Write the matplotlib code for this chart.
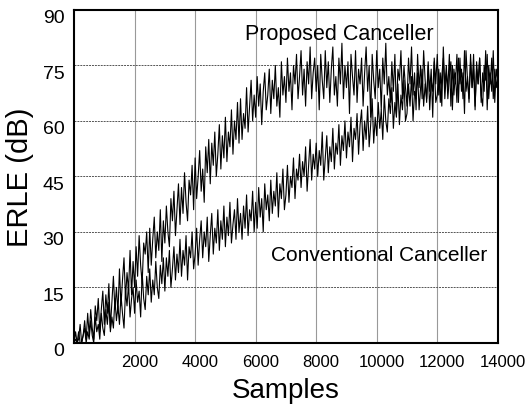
"""
ERLE convergence curves: proposed vs conventional canceller.
"""

import matplotlib
matplotlib.use("Agg")
import matplotlib.pyplot as plt
import matplotlib.transforms as mtransforms
import numpy as np

# sample index step of the read-off values
STEP = 50

# ERLE (dB), one row per 500 samples
erle_proposed = [
    0, 3, 0, 1, 5, 0, 2, 6, 1, 8,
    2, 9, 4, 1, 10, 6, 12, 3, 9, 14,
    5, 13, 8, 16, 4, 11, 18, 9, 15, 8,
    20, 10, 17, 23, 12, 19, 14, 25, 13, 22,
    15, 26, 18, 29, 21, 16, 27, 24, 30, 19,
    31, 21, 28, 34, 23, 30, 25, 36, 22, 33,
    27, 37, 30, 26, 39, 33, 41, 29, 36, 43,
    32, 42, 35, 46, 38, 33, 44, 40, 48, 36,
    50, 39, 45, 52, 41, 47, 38, 53, 46, 55,
    43, 54, 48, 57, 45, 51, 59, 47, 56, 50,
    61, 49, 57, 53, 63, 51, 60, 55, 65, 54,
    66, 55, 62, 58, 69, 57, 64, 71, 60, 67,
    61, 72, 64, 70, 59, 68, 73, 63, 67, 74,
    62, 71, 66, 75, 64, 69, 61, 76, 67, 72,
    65, 77, 68, 73, 63, 75, 70, 78, 66, 72,
    79, 67, 74, 64, 76, 70, 80, 66, 73, 77,
    68, 75, 63, 78, 71, 66, 79, 69, 76, 65,
    74, 80, 67, 72, 64, 77, 70, 81, 66, 75,
    69, 76, 62, 78, 72, 67, 79, 65, 74, 70,
    77, 64, 73, 80, 68, 75, 61, 78, 71, 66,
    79, 69, 74, 63, 77, 70, 81, 67, 72, 65,
    76, 68, 78, 62, 74, 71, 79, 66, 75, 69,
    64, 77, 70, 80, 67, 73, 63, 78, 69, 75,
    66, 79, 71, 65, 76, 68, 74, 61, 77, 70,
    78, 67, 73, 64, 80, 69, 75, 66, 72, 76,
    63, 74, 70, 78, 65, 77, 68, 73, 62, 79,
    71, 66, 76, 69, 78, 64, 74, 70, 77, 65,
    73, 68, 79, 63, 75, 70, 77, 66, 74, 69,
    72,
]

erle_conventional = [
    0, 1, 0, 3, 0, 0, 2, 4, 0, 3,
    1, 6, 2, 0, 7, 3, 5, 1, 8, 4,
    2, 9, 5, 11, 3, 7, 4, 12, 6, 10,
    5, 13, 8, 4, 14, 10, 16, 7, 12, 15,
    8, 17, 11, 14, 7, 19, 12, 9, 18, 13,
    20, 11, 17, 13, 22, 15, 12, 21, 16, 23,
    14, 23, 18, 25, 15, 20, 26, 17, 24, 19,
    28, 18, 25, 21, 29, 17, 26, 23, 30, 20,
    24, 31, 21, 28, 33, 23, 30, 26, 34, 22,
    29, 35, 24, 31, 27, 36, 25, 33, 28, 37,
    26, 34, 29, 38, 27, 32, 36, 28, 39, 30,
    35, 28, 37, 31, 40, 29, 36, 33, 41, 30,
    38, 31, 42, 34, 39, 30, 43, 36, 40, 33,
    44, 35, 41, 37, 46, 34, 43, 39, 47, 36,
    40, 48, 38, 45, 42, 50, 39, 47, 44, 51,
    42, 49, 45, 53, 41, 48, 55, 44, 51, 47,
    54, 45, 52, 48, 57, 44, 50, 56, 46, 53,
    49, 58, 47, 54, 51, 59, 48, 56, 52, 60,
    50, 57, 53, 61, 49, 58, 55, 62, 51, 59,
    63, 52, 60, 55, 64, 53, 59, 66, 54, 61,
    56, 65, 58, 63, 55, 67, 60, 57, 66, 62,
    69, 58, 65, 61, 70, 59, 67, 63, 71, 60,
    62, 70, 64, 72, 60, 68, 66, 73, 63, 69,
    74, 64, 70, 66, 75, 63, 71, 68, 76, 65,
    67, 74, 65, 72, 77, 66, 73, 69, 78, 64,
    75, 67, 73, 65, 77, 70, 74, 66, 79, 68,
    72, 65, 78, 69, 74, 63, 76, 70, 77, 67,
    64, 75, 71, 78, 66, 73, 68, 79, 65, 74,
    71,
]

x_ticks = [2000, 4000, 6000, 8000, 10000, 12000, 14000]
y_ticks = [0, 15, 30, 45, 60, 75, 90]

samples = np.arange(len(erle_proposed)) * STEP

plt.rcParams["font.family"] = ["Liberation Sans", "DejaVu Sans"]

fig = plt.figure(figsize=(5.29, 4.06), dpi=100)
ax = fig.add_axes([0.140, 0.153, 0.801, 0.820])

ax.plot(samples, erle_proposed, color="#000000", linewidth=0.8)
ax.plot(samples, erle_conventional, color="#000000", linewidth=0.8)

ax.set_xlim(0, 14000)
ax.set_ylim(0, 90)
ax.set_xticks(x_ticks)
ax.set_yticks(y_ticks)
ax.tick_params(axis="both", length=0)
ax.tick_params(axis="x", labelsize=12, pad=8)
ax.tick_params(axis="y", labelsize=14, pad=7)

# labels in the reference sit a little right / below their grid lines
for lab in ax.get_xticklabels():
    lab.set_transform(lab.get_transform() + mtransforms.ScaledTranslation(5 / 100, 0, fig.dpi_scale_trans))
for lab in ax.get_yticklabels():
    lab.set_transform(lab.get_transform() + mtransforms.ScaledTranslation(0, -6 / 100, fig.dpi_scale_trans))

ax.xaxis.grid(True, color="#999999", linewidth=0.8, linestyle="-")
ax.yaxis.grid(True, color="#555555", linewidth=0.7, linestyle=(0, (2, 1)))
ax.set_axisbelow(True)
for sp in ax.spines.values():
    sp.set_linewidth(1.5)

ax.set_xlabel("Samples", fontsize=20, labelpad=6)
ax.set_ylabel("ERLE (dB)", fontsize=21, labelpad=6)

ax.text(0.627, 0.93, "Proposed Canceller", transform=ax.transAxes, fontsize=15.5, ha="center", va="center")
ax.text(0.72, 0.265, "Conventional Canceller", transform=ax.transAxes, fontsize=15, ha="center", va="center")

fig.savefig("out.png", dpi=100)
plt.close(fig)
